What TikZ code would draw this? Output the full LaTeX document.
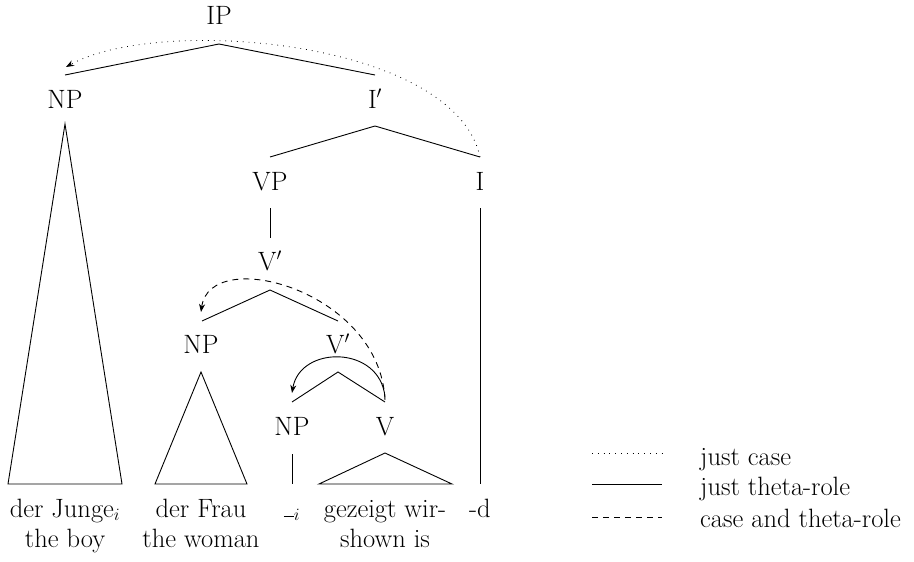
\documentclass[tikz,border=0pt]{standalone}
\usetikzlibrary{arrows.meta}
\begin{document}
\begin{tikzpicture}[x=1pt,y=-1pt,
  every node/.style={font=\fontsize{26.5}{32}\selectfont, inner sep=0pt, anchor=base},
  branch/.style={line width=0.9pt},
  casearc/.style={line width=0.8pt, dash pattern=on 0.8pt off 5pt},
  thetaarc/.style={line width=0.9pt},
  botharc/.style={line width=0.9pt, dash pattern=on 6pt off 5pt},
  tip/.style={-{Stealth[length=8pt,width=6pt,inset=2.5pt]}}]
\useasboundingbox (0,0) rectangle (914,562);
% labels
\node (IP) at (219,24) {IP};
\node (NP1) at (65,108) {NP};
\node (Ib) at (375,108) {I$'$};
\node (VP) at (270,190) {VP};
\node (I) at (480,190) {I};
\node (Vb1) at (270,270) {V$'$};
\node (NP2) at (201,353) {NP};
\node (Vb2) at (338,353) {V$'$};
\node (NP3) at (292,435) {NP};
\node (V) at (385,435) {V};
% words
\node (w1) at (65,517) {der Junge$_i$};
\node (w2) at (201,517) {der Frau};
\node (w3) at (292,517) {\rule[0pt]{10pt}{0.9pt}$_i$};
\node (w4) at (385,517) {gezeigt wir-};
\node (w5) at (480,517) {-d};
\node (g1) at (65,547) {the boy};
\node (g2) at (201,547) {the woman};
\node (g4) at (385,547) {shown is};
% coordinates
\coordinate (ipA) at (219,44);
\coordinate (ipL) at (65,75);
\coordinate (ipR) at (375,75);
\coordinate (ibA) at (375,126);
\coordinate (ibL) at (270,157);
\coordinate (ibR) at (480,157);
\coordinate (vpB) at (270,208);
\coordinate (vpE) at (270,238);
\coordinate (v1A) at (270,290);
\coordinate (v1L) at (202,321);
\coordinate (v1R) at (338,321);
\coordinate (v2A) at (338,372);
\coordinate (v2L) at (292,402);
\coordinate (v2R) at (385,402);
\coordinate (t1A) at (65,124);
\coordinate (t1L) at (8,484);
\coordinate (t1R) at (122,484);
\coordinate (t2A) at (201,372);
\coordinate (t2L) at (155,484);
\coordinate (t2R) at (247,484);
\coordinate (trT) at (292,454);
\coordinate (trB) at (292,484);
\coordinate (t3A) at (385,453);
\coordinate (t3L) at (319,484);
\coordinate (t3R) at (452,484);
\coordinate (iT) at (480,208);
\coordinate (iB) at (480,484);
% branches
\draw[branch] (ipL) -- (ipA) -- (ipR);
\draw[branch] (ibL) -- (ibA) -- (ibR);
\draw[branch] (vpB) -- (vpE);
\draw[branch] (v1L) -- (v1A) -- (v1R);
\draw[branch] (v2L) -- (v2A) -- (v2R);
\draw[branch] (t1A) -- (t1L) -- (t1R) -- cycle;
\draw[branch] (t2A) -- (t2L) -- (t2R) -- cycle;
\draw[branch] (trT) -- (trB);
\draw[branch] (t3A) -- (t3L) -- (t3R) -- cycle;
\draw[branch] (iT) -- (iB);
% arcs
\coordinate (caseS) at (480,157);
\coordinate (caseE) at (66,67);
\draw[casearc, tip] (caseS) .. controls (455,40) and (160,15) .. (caseE);
\coordinate (bothS) at (385,400);
\coordinate (bothE) at (201,312);
\draw[botharc, tip] (bothS) .. controls (380,290) and (210,245) .. (bothE);
\coordinate (thS) at (385,397);
\coordinate (thE) at (292,393);
\draw[thetaarc, tip] (thS) .. controls (380,345) and (300,345) .. (thE);
% legend
\coordinate (l1a) at (592,453); \coordinate (l1b) at (662,453);
\coordinate (l2a) at (592,484); \coordinate (l2b) at (662,484);
\coordinate (l3a) at (592,517); \coordinate (l3b) at (662,517);
\draw[casearc] (l1a) -- (l1b);
\draw[thetaarc] (l2a) -- (l2b);
\draw[botharc] (l3a) -- (l3b);
\node[anchor=base west] (k1) at (700,465) {just case};
\node[anchor=base west] (k2) at (700,495) {just theta-role};
\node[anchor=base west] (k3) at (700,527) {case and theta-role};
\end{tikzpicture}
\end{document}
